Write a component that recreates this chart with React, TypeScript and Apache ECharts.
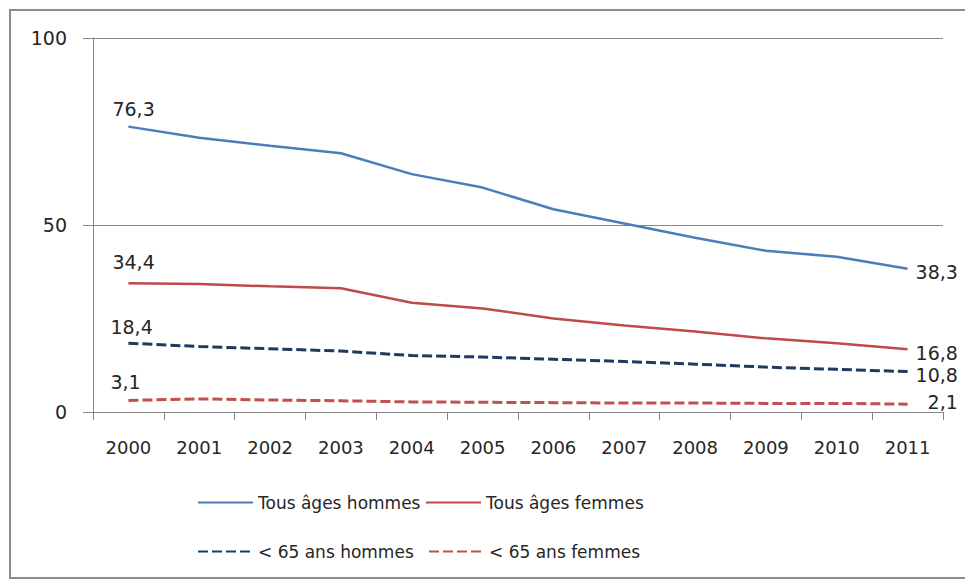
import React, { useEffect, useRef } from "react";
import * as echarts from "echarts";

const years = ["2000", "2001", "2002", "2003", "2004", "2005", "2006", "2007", "2008", "2009", "2010", "2011"];
const tousHommes = [76.3, 73.3, 71.2, 69.2, 63.6, 60.0, 54.2, 50.4, 46.6, 43.1, 41.5, 38.3];
const tousFemmes = [34.4, 34.2, 33.6, 33.1, 29.2, 27.7, 25.0, 23.1, 21.5, 19.7, 18.4, 16.8];
const moins65Hommes = [18.4, 17.5, 16.9, 16.3, 15.1, 14.7, 14.1, 13.5, 12.8, 12.0, 11.4, 10.8];
const moins65Femmes = [3.1, 3.5, 3.2, 3.0, 2.7, 2.6, 2.5, 2.4, 2.4, 2.3, 2.3, 2.1];
const seriesNames = ["Tous âges hommes", "Tous âges femmes", "< 65 ans hommes", "< 65 ans femmes"];
const yTicks = [0, 50, 100];

const FONT = "DejaVu Sans";
const TXT = "#262626";

const fmt = (v: number) => String(v.toFixed(1)).replace(".", ",");

function buildData(values: number[], first: { dx: number; dy: number }, last: { dist: number; dy: number }) {
  return values.map((v, i) => {
    if (i === 0) {
      return {
        value: v,
        label: {
          show: true,
          position: "top",
          distance: 5,
          align: "left",
          offset: [first.dx, first.dy],
          formatter: () => fmt(v),
        },
      };
    }
    if (i === values.length - 1) {
      return {
        value: v,
        label: {
          show: true,
          position: "right",
          distance: last.dist,
          offset: [0, last.dy],
          formatter: () => fmt(v),
        },
      };
    }
    return { value: v };
  });
}

export default function App() {
  const ref = useRef<HTMLDivElement>(null);
  useEffect(() => {
    if (!ref.current) return;
    const chart = echarts.init(ref.current, undefined, { renderer: "svg" });
    const labelStyle = { show: false, color: TXT, opacity: 1, fontFamily: FONT, fontSize: 19 };
    const legendBase = {
      orient: "horizontal",
      itemWidth: 55,
      itemHeight: 14,
      itemStyle: { color: "rgba(0,0,0,0)", borderWidth: 0 },
      textStyle: { color: TXT, fontFamily: FONT, fontSize: 17 },
      padding: 0,
    };
    const hiddenSymbol = {
      symbol: "circle",
      symbolSize: 2,
      showSymbol: true,
      showAllSymbol: true,
      itemStyle: { color: "rgba(0,0,0,0)", borderWidth: 0 },
    };
    chart.setOption({
      animation: false,
      backgroundColor: "#ffffff",
      grid: { left: 93, top: 38, right: 22, bottom: 173, containLabel: false },
      graphic: [
        {
          type: "rect",
          shape: { x: 10, y: 10, width: 980, height: 568 },
          style: { fill: "none", stroke: "#8c8c8c", lineWidth: 2 },
          silent: true,
        },
      ],
      legend: [
        { ...legendBase, left: 197, top: 494, data: [seriesNames[0]] },
        { ...legendBase, left: 425, top: 494, data: [seriesNames[1]] },
        { ...legendBase, left: 197, top: 543, data: [seriesNames[2]] },
        { ...legendBase, left: 428, top: 543, data: [seriesNames[3]] },
      ],
      xAxis: {
        type: "category",
        data: years,
        boundaryGap: true,
        axisLine: { lineStyle: { color: "#868686", width: 1 } },
        axisTick: { show: true, length: 8, interval: 0, lineStyle: { color: "#868686" } },
        axisLabel: { color: TXT, fontFamily: FONT, fontSize: 18, margin: 26, interval: 0 },
        splitLine: { show: false },
      },
      yAxis: {
        type: "value",
        min: yTicks[0],
        max: yTicks[yTicks.length - 1],
        interval: 50,
        axisLine: { show: true, lineStyle: { color: "#868686", width: 1 } },
        axisTick: { show: true, length: 10, lineStyle: { color: "#868686" } },
        axisLabel: { color: TXT, fontFamily: FONT, fontSize: 19, margin: 26 },
        splitLine: { show: true, lineStyle: { color: "#868686", width: 1 } },
      },
      series: [
        {
          name: seriesNames[0],
          type: "line",
          ...hiddenSymbol,
          lineStyle: { color: "#4A7EBB", width: 2.5 },
          label: labelStyle,
          data: buildData(tousHommes, { dx: -16, dy: -2 }, { dist: 7, dy: 3 }),
        },
        {
          name: seriesNames[1],
          type: "line",
          ...hiddenSymbol,
          lineStyle: { color: "#BE4B48", width: 2.5 },
          label: labelStyle,
          data: buildData(tousFemmes, { dx: -16, dy: -6 }, { dist: 7, dy: 4 }),
        },
        {
          name: seriesNames[2],
          type: "line",
          ...hiddenSymbol,
          lineStyle: { color: "#1F3A60", width: 3, type: [10, 4] },
          label: labelStyle,
          data: buildData(moins65Hommes, { dx: -18, dy: -1 }, { dist: 7, dy: 3 }),
        },
        {
          name: seriesNames[3],
          type: "line",
          ...hiddenSymbol,
          lineStyle: { color: "#C0504D", width: 3, type: [10, 4] },
          label: labelStyle,
          data: buildData(moins65Femmes, { dx: -18, dy: -3 }, { dist: 19, dy: -2 }),
        },
      ],
    });
    return () => chart.dispose();
  }, []);
  return (
    <div
      ref={ref}
      style={{ position: "fixed", left: 0, top: 0, width: 965, height: 585, background: "#fff" }}
    />
  );
}
